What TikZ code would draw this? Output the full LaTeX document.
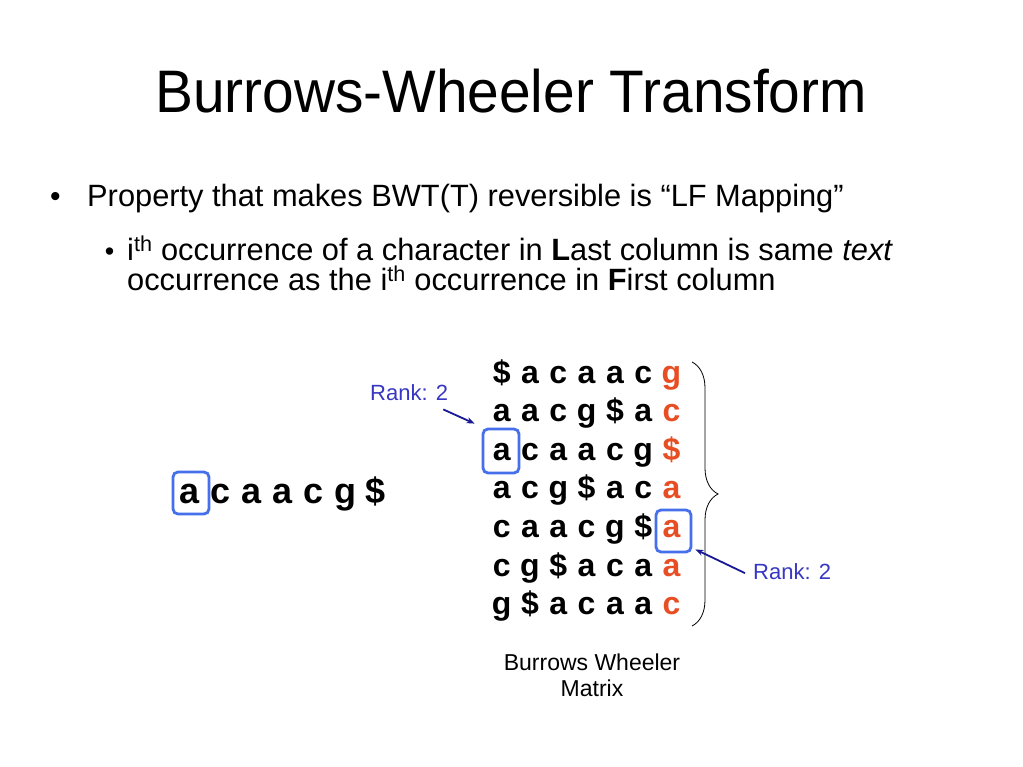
\documentclass[tikz,border=0pt]{standalone}
\usepackage{fontspec}
\setmainfont{Liberation Sans}
\usetikzlibrary{decorations.pathreplacing,arrows.meta}
\definecolor{redL}{RGB}{232,78,36}
\definecolor{boxblue}{RGB}{70,112,235}
\definecolor{rankblue}{RGB}{55,55,195}
\definecolor{arrownavy}{RGB}{25,25,150}
\begin{document}
\begin{tikzpicture}[x=1pt,y=-1pt,
  txt/.style={anchor=base west, inner sep=0pt},
  mch/.style={anchor=base, inner sep=0pt, font=\fontsize{32}{36}\selectfont\bfseries},
  lch/.style={anchor=base, inner sep=0pt, font=\fontsize{36}{40}\selectfont\bfseries},
  lastch/.style={mch, text=redL},
  hbox/.style={draw=boxblue, line width=2.8pt, rounded corners=5pt, inner sep=0pt},
  ranklbl/.style={anchor=base west, inner sep=0pt, text=rankblue, font=\fontsize{22}{26}\selectfont},
  rankarrow/.style={draw=arrownavy, line width=1.8pt, -{Stealth[length=8pt,width=6pt]}},
  caption/.style={anchor=base, inner sep=0pt, font=\fontsize{23}{27}\selectfont},
]
\useasboundingbox[fill=white] (0,0) rectangle (1023,767);

% title
\node[anchor=base, inner sep=0pt, font=\fontsize{60}{66}\selectfont, xscale=0.947] (title) at (511,113) {Burrows-Wheeler Transform};

% bullets
\node[anchor=base, inner sep=0pt, font=\fontsize{30}{36}\selectfont] (bul1) at (55.5,207) {•};
\node[txt, font=\fontsize{30.8}{36}\selectfont] (t1) at (87,207) {Property that makes BWT(T) reversible is “LF Mapping”};
\node[anchor=base, inner sep=0pt, font=\fontsize{27}{32}\selectfont] (bul2) at (109.5,261) {•};
\node[txt, font=\fontsize{30.8}{36}\selectfont] (t2) at (127,261) {i\textsuperscript{th} occurrence of a character in \textbf{L}ast column is same \textit{text}};
\node[txt, font=\fontsize{30.8}{36}\selectfont] (t3) at (127,291) {occurrence as the i\textsuperscript{th} occurrence in \textbf{F}irst column};

% left string
\foreach \ch [count=\j] in {a,c,a,a,c,g,\$} {
  \node[lch] (s-\j) at ({190+31*(\j-1)},503) {\ch};
}

% matrix
\foreach \row/\last [count=\i] in {{\$,a,c,a,a,c}/g,{a,a,c,g,\$,a}/c,{a,c,a,a,c,g}/\$,{a,c,g,\$,a,c}/a,{c,a,a,c,g,\$}/a,{c,g,\$,a,c,a}/a,{g,\$,a,c,a,a}/c} {
  \foreach \ch [count=\j] in \row {
    \node[mch] (m-\i-\j) at ({501.7+28.3*(\j-1)},{383+38.6*(\i-1)}) {\ch};
  }
  \node[lastch] (m-\i-7) at ({501.7+28.3*6},{383+38.6*(\i-1)}) {\last};
}

% highlight boxes
\node[hbox, minimum width=36pt, minimum height=42pt] (boxS) at (191,493) {};
\node[hbox, minimum width=36pt, minimum height=44pt] (boxF) at (501,451) {};
\node[hbox, minimum width=35pt, minimum height=42pt] (boxL) at (673.5,531) {};

% brace
\coordinate (brtop) at (692,362);
\coordinate (brbot) at (692,626);
\draw[line width=0.8pt, decorate, decoration={brace, amplitude=26pt, aspect=0.5}] (brtop) -- (brbot);

% rank labels
\node[ranklbl] (rank1) at (370,400) {Rank: 2};
\node[ranklbl] (rank2) at (753,579) {Rank: 2};
\draw[rankarrow] ([shift={(-5,9)}]rank1.south east) -- ([shift={(-7,-4)}]boxF.north west);
\draw[rankarrow] ([shift={(-8,2)}]rank2.west) -- ([shift={(3,-4)}]boxL.south east);

% caption
\node[caption] (cap1) at (592,670) {Burrows Wheeler};
\node[caption] (cap2) at (592,696) {Matrix};
\end{tikzpicture}
\end{document}
